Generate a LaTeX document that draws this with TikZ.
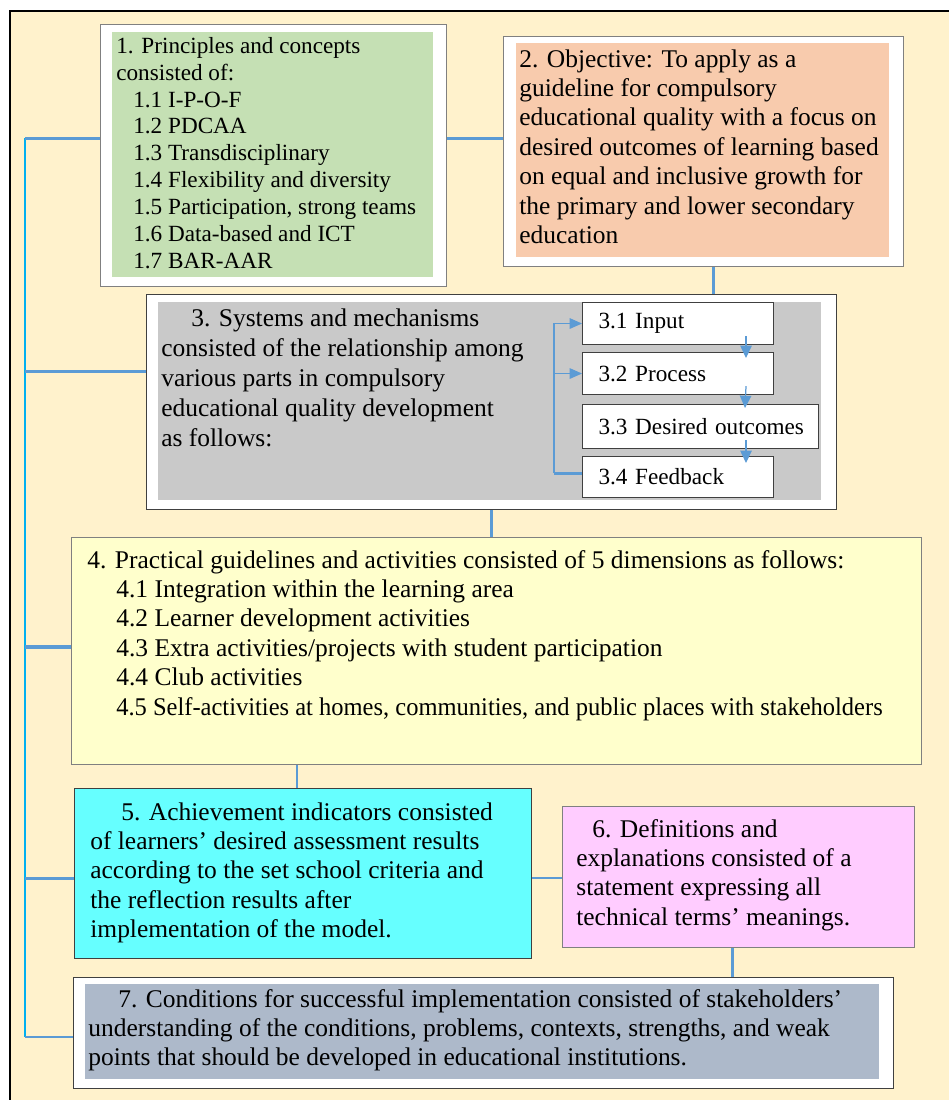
\documentclass[tikz,border=0pt]{standalone}
\usepackage{fontspec}
\setmainfont{Liberation Serif}
\usepackage{graphicx}
\usepackage{tikz}
\usetikzlibrary{positioning,calc,arrows.meta}

\definecolor{cream}{HTML}{FFF2CC}
\definecolor{leafgreen}{HTML}{C5E0B4}
\definecolor{peach}{HTML}{F8CBAD}
\definecolor{midgray}{HTML}{C9C9C9}
\definecolor{paleyellow}{HTML}{FFFFCC}
\definecolor{aqua}{HTML}{66FFFF}
\definecolor{lilac}{HTML}{FFCCFF}
\definecolor{slate}{HTML}{ADB9CA}
\definecolor{linkblue}{HTML}{5B9BD5}
\definecolor{busblue}{HTML}{00B0F0}
\definecolor{edgegray}{HTML}{808080}
\definecolor{darkedge}{HTML}{404040}

\newcommand{\bodyfs}{\fontsize{14.5}{16.7}\selectfont}
\newcommand{\listfs}{\fontsize{13.2}{15.3}\selectfont}

\tikzset{
  panel/.style={anchor=north west, inner sep=0pt, draw=edgegray, line width=0.6pt},
  inpanel/.style={anchor=north west, inner sep=0pt},
  words/.style={anchor=north west, inner sep=0pt, align=left, font=\bodyfs},
  subbox/.style={anchor=north west, draw=darkedge, fill=white, line width=0.6pt,
    inner xsep=0.32cm, inner ysep=0pt, text width=3.18cm, align=left,
    minimum height=0.84cm, font=\fontsize{13.2}{15}\selectfont},
  link/.style={draw=linkblue, line width=1.7pt},
  thinlink/.style={draw=linkblue, line width=0.6pt, -{Triangle[width=6pt,length=7pt]}},
  bus/.style={draw=busblue, line width=1.2pt},
  flow/.style={draw=linkblue, line width=0.7pt, -{Triangle[width=6.5pt,length=7pt]}}
}

\begin{document}
\begin{tikzpicture}[x=0.02cm, y=-0.02cm]
  \useasboundingbox (0,0) rectangle (949,1100);

  % Background
  \fill[cream] (10,11) rectangle (949,1100);
  \draw[line width=1.1pt] (949,11) -- (10,11) -- (10,1100);

  % 1. Principles
  \node[panel, fill=white, minimum width=6.92cm, minimum height=5.24cm] (b1) at (100,24) {};
  \node[inpanel, fill=leafgreen, minimum width=6.42cm, minimum height=4.90cm] (b1in) at (112,32) {};
  \node[words, font=\listfs] (t1) at (116,34.1) {\strut 1. Principles and concepts\\
    consisted of:\\
    \hspace*{0.34cm}1.1 I-P-O-F\\
    \hspace*{0.34cm}1.2 PDCAA\\
    \hspace*{0.34cm}1.3 Transdisciplinary\\
    \hspace*{0.34cm}1.4 Flexibility and diversity\\
    \hspace*{0.34cm}1.5 Participation, strong teams\\
    \hspace*{0.34cm}1.6 Data-based and ICT\\
    \hspace*{0.34cm}1.7 BAR-AAR};

  % 2. Objective
  \node[panel, fill=white, minimum width=8cm, minimum height=4.6cm] (b2) at (503,36) {};
  \node[inpanel, fill=peach, minimum width=7.46cm, minimum height=4.28cm] (b2in) at (516,43) {};
  \node[words] (t2) at (519,46.4) {\strut 2. Objective: To apply as a\\
    guideline for compulsory\\
    educational quality with a focus on\\
    desired outcomes of learning based\\
    on equal and inclusive growth for\\
    the primary and lower secondary\\
    education};

  % 3. Systems and mechanisms
  \node[panel, draw=darkedge, fill=white, minimum width=13.8cm, minimum height=4.3cm] (b3) at (146,294) {};
  \node[inpanel, fill=midgray, minimum width=13.26cm, minimum height=3.96cm] (b3in) at (158,302) {};
  \node[words, font=\fontsize{14.5}{17}\selectfont] (t3) at (161,305.4) {\strut\hspace*{0.6cm}3. Systems and mechanisms\\
    consisted of the relationship among\\
    various parts in compulsory\\
    educational quality development\\
    as follows:};
  \node[subbox] (s1) at (582,302) {3.1 Input};
  \node[subbox] (s2) at (582,352) {3.2 Process};
  \node[subbox, text width=4.08cm, minimum height=0.88cm] (s3) at (582,404) {\mbox{3.3 Desired outcomes}};
  \node[subbox, minimum height=0.82cm] (s4) at (582,456) {3.4 Feedback};

  % feedback loop
  \coordinate (fb) at (554,473);
  \draw[thinlink] (fb) |- (s1.west);
  \draw[thinlink] (fb |- s2.west) -- (s2.west);
  \draw[link] (fb) -- (fb -| s4.west);
  \draw[flow] ($(s1.south east)+(-28,-9)$) -- ($(s2.north east)+(-28,6)$);
  \draw[flow] ($(s2.south east)+(-28,-9)$) -- ($(s3.north west)+(163,4)$);
  \draw[flow] ($(s4.north east)+(-28,-16)$) -- ($(s4.north east)+(-28,7)$);

  % 4. Practical guidelines
  \node[panel, fill=paleyellow, minimum width=17cm, minimum height=4.54cm] (b4) at (71,537) {};
  \node[words] (t4) at (87,547.4) {\strut 4. Practical guidelines and activities consisted of 5 dimensions as follows:\\
    \hspace*{0.58cm}4.1 Integration within the learning area\\
    \hspace*{0.58cm}4.2 Learner development activities\\
    \hspace*{0.58cm}4.3 Extra activities/projects with student participation\\
    \hspace*{0.58cm}4.4 Club activities\\
    \hspace*{0.58cm}\scalebox{0.962}[1]{4.5 Self-activities at homes, communities, and public places with stakeholders}};

  % 5. Achievement indicators
  \node[panel, draw=darkedge, fill=aqua, minimum width=9.14cm, minimum height=3.4cm] (b5) at (74,788) {};
  \node[words] (t5) at (90,799.4) {\strut\hspace*{0.62cm}5. Achievement indicators consisted\\
    of learners’ desired assessment results\\
    according to the set school criteria and\\
    the reflection results after\\
    implementation of the model.};

  % 6. Definitions
  \node[panel, fill=lilac, minimum width=7.04cm, minimum height=2.82cm] (b6) at (562,806) {};
  \node[words] (t6) at (576,816.4) {\strut\hspace*{0.32cm}6. Definitions and\\
    explanations consisted of a\\
    statement expressing all\\
    technical terms’ meanings.};

  % 7. Conditions
  \node[panel, draw=darkedge, fill=white, minimum width=16.4cm, minimum height=2.22cm] (b7) at (73,977) {};
  \node[inpanel, fill=slate, minimum width=15.88cm, minimum height=1.9cm] (b7in) at (85,984) {};
  \node[words] (t7) at (88,986.4) {\strut\hspace*{0.6cm}7. Conditions for successful implementation consisted of stakeholders’\\
    understanding of the conditions, problems, contexts, strengths, and weak\\
    points that should be developed in educational institutions.};

  % Connectors
  \coordinate (k1) at (25,138);
  \coordinate (k3) at (25,371);
  \coordinate (k4) at (25,647);
  \coordinate (k5) at (25,878);
  \coordinate (k7) at (25,1037);
  \draw[bus] (k1) -- (k7);
  \draw[link] (k1) -- (k1 -| b1.west);
  \draw[link] (k1 -| b1.east) -- (k1 -| b2.west);
  \draw[link] (k3) -- (k3 -| b3.west);
  \draw[link, line width=2.2pt] (k4) -- (k4 -| b4.west);
  \draw[link] (k5) -- (k5 -| b5.west);
  \draw[link, line width=1.2pt] (k5 -| b5.east) -- (k5 -| b6.west);
  \draw[link, line width=1.2pt] (k7) -- (k7 -| b7.west);
  \draw[link, line width=1.2pt] ($(b2.south)+(10,0)$) -- ($(b2.south |- b3.north)+(10,0)$);
  \draw[link, line width=1.2pt] (b3.south) -- (b3.south |- b4.north);
  \draw[link, line width=1.2pt] ($(b5.north |- b4.south)+(-6,0)$) -- ($(b5.north)+(-6,0)$);
  \draw[link, line width=1.2pt] ($(b6.south)+(-6,0)$) -- ($(b6.south |- b7.north)+(-6,0)$);
\end{tikzpicture}
\end{document}
